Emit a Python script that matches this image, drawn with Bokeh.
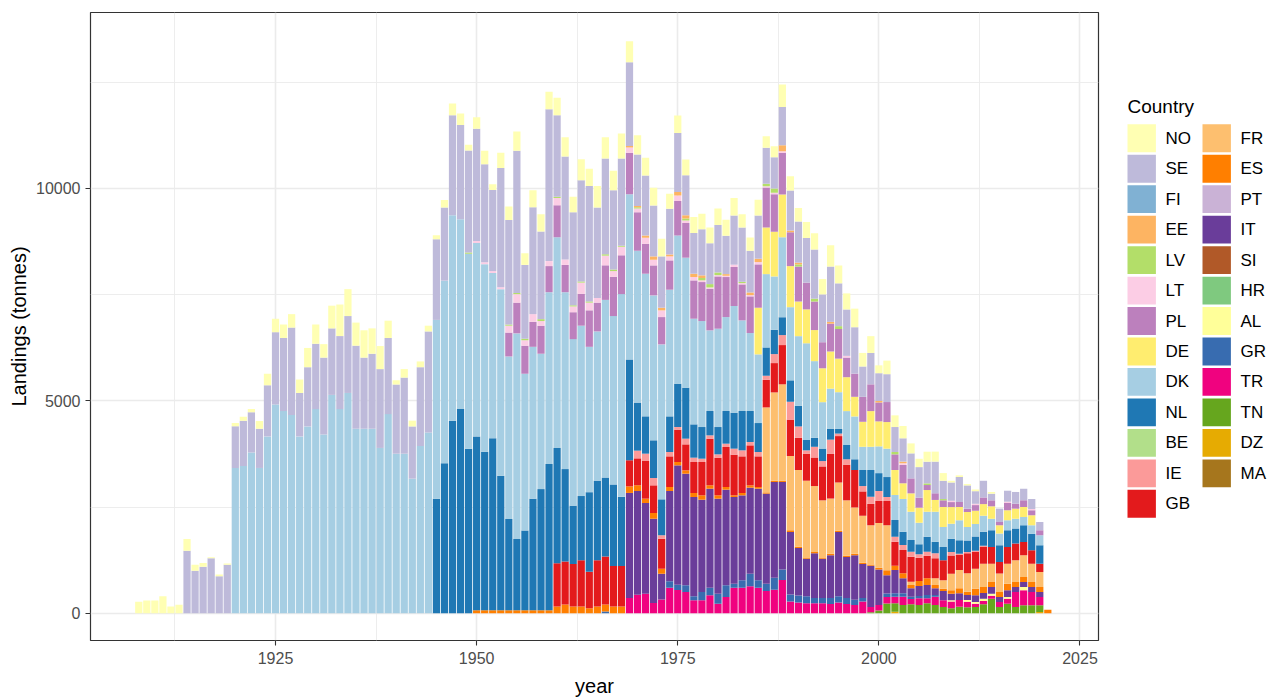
from bokeh.plotting import figure
from bokeh.layouts import row
from bokeh.models import ColumnDataSource, FixedTicker, Range1d
from bokeh.core.properties import value
from bokeh.embed import file_html
from bokeh.resources import INLINE

# ---------------- data ----------------
YEARS = list(range(1908, 2022))
COUNTRIES = ["NO", "SE", "FI", "EE", "LV", "LT", "PL", "DE", "DK", "NL", "BE", "IE", "GB",
             "FR", "ES", "PT", "IT", "SI", "HR", "AL", "GR", "TR", "TN", "DZ", "MA"]
COLORS = ["#FFFFB3", "#BEBADA", "#80B1D3", "#FDB462", "#B3DE69", "#FCCDE5", "#BC80BD",
          "#FFED6F", "#A6CEE3", "#1F78B4", "#B2DF8A", "#FB9A99", "#E31A1C",
          "#FDBF6F", "#FF7F00", "#CAB2D6", "#6A3D9A", "#B15928", "#7FC97F", "#FFFF99",
          "#386CB0", "#F0027F", "#66A61E", "#E6AB02", "#A6761D"]
X_TICKS = [1925, 1950, 1975, 2000, 2025]
X_MINOR = [1912.5, 1937.5, 1962.5, 1987.5, 2012.5]
Y_TICKS = [0, 5000, 10000]
Y_MINOR = [2500, 7500, 12500]

NO = {1908: 270, 1909: 300, 1910: 300, 1911: 400, 1912: 160, 1913: 200, 1914: 275, 1915: 140,
      1916: 90, 1917: 25, 1918: 45, 1919: 35, 1920: 80, 1921: 91, 1922: 73, 1923: 181, 1924: 271,
      1925: 316, 1926: 317, 1927: 317, 1928: 316, 1929: 453, 1930: 453, 1931: 317, 1932: 534,
      1933: 742, 1934: 633, 1935: 543, 1936: 643, 1937: 597, 1938: 543, 1939: 407, 1940: 100,
      1941: 200, 1942: 136, 1943: 136, 1944: 135, 1945: 90, 1946: 181, 1947: 280, 1948: 271,
      1949: 136, 1950: 272, 1951: 317, 1952: 136, 1953: 362, 1954: 317, 1955: 453, 1956: 271,
      1957: 398, 1958: 407, 1959: 407, 1960: 416, 1961: 453, 1962: 362, 1963: 498, 1964: 407,
      1965: 507, 1966: 498, 1967: 461, 1968: 588, 1969: 497, 1970: 452, 1971: 415, 1972: 415,
      1973: 415, 1974: 353, 1975: 415, 1976: 369, 1977: 376, 1978: 368, 1979: 369, 1980: 392,
      1981: 376, 1982: 408, 1983: 313, 1984: 313, 1985: 369, 1986: 274, 1987: 259, 1988: 529,
      1989: 336, 1990: 319, 1991: 378, 1992: 378, 1993: 361, 1994: 504, 1995: 420, 1996: 378,
      1997: 437, 1998: 319, 1999: 395, 2000: 185, 2001: 319, 2002: 275, 2003: 290, 2004: 235,
      2005: 196, 2006: 235, 2007: 235, 2008: 180, 2009: 40, 2010: 39, 2011: 32, 2012: 40,
      2014: 40}
SE = {1914: 1475, 1915: 1000, 1916: 1095, 1917: 1295, 1918: 870, 1919: 1140, 1920: 980,
      1921: 1068, 1922: 950, 1923: 923, 1924: 1204, 1925: 1702, 1926: 1720, 1927: 2054,
      1928: 1023, 1929: 1394, 1930: 1538, 1931: 1810, 1932: 1566, 1933: 1719, 1934: 1810,
      1935: 1955, 1936: 1674, 1937: 1765, 1938: 1855, 1939: 1792, 1940: 1629, 1941: 1792,
      1942: 1230, 1943: 1855, 1944: 2380, 1945: 1901, 1946: 1720, 1947: 2353, 1948: 2218,
      1949: 2400, 1950: 2643, 1951: 2308, 1952: 1910, 1953: 2806, 1954: 2462, 1955: 3348,
      1956: 1738, 1957: 2516, 1958: 2064, 1959: 3575, 1960: 1919, 1961: 2425, 1962: 2190,
      1963: 2380, 1964: 2715, 1965: 2127, 1966: 2253, 1967: 1864, 1968: 2054, 1969: 1973,
      1970: 1213, 1971: 1412, 1972: 1200, 1973: 1208, 1974: 1074, 1975: 1388, 1976: 941,
      1977: 957, 1978: 1082, 1979: 964, 1980: 1114, 1981: 902, 1982: 1160, 1983: 1279,
      1984: 981, 1985: 1019, 1986: 847, 1987: 737, 1988: 899, 1989: 941, 1990: 966, 1991: 1050,
      1992: 1159, 1993: 1126, 1994: 1302, 1995: 1008, 1996: 1092, 1997: 1092, 1998: 714,
      1999: 739, 2000: 655, 2001: 656, 2002: 588, 2003: 549, 2004: 588, 2005: 720, 2006: 510,
      2007: 745, 2008: 431, 2009: 431, 2010: 588, 2011: 549, 2012: 297, 2013: 392, 2014: 156,
      2015: 314, 2016: 259, 2017: 275, 2018: 275, 2019: 235, 2020: 196}
FI = {}
EE = {1969: 36, 1970: 27, 1971: 55, 1972: 79, 1973: 63, 1974: 47, 1975: 79, 1976: 79, 1977: 78,
      1978: 63, 1981: 39, 1984: 62, 1985: 79, 1988: 143, 1989: 42, 1990: 42, 1994: 42, 2000: 34,
      2003: 39}
LV = {1949: 30, 1954: 27, 1955: 28, 1956: 36, 1958: 45, 1960: 27, 1962: 27, 1963: 27, 1964: 28,
      1966: 36, 1967: 37, 1968: 27, 1970: 27, 1976: 47, 1978: 55, 1979: 79, 1980: 63, 1983: 31,
      1986: 55, 1987: 102, 1990: 50, 1992: 67, 1995: 67, 2002: 55, 2006: 39, 2008: 30}
LT = {1950: 45, 1951: 45, 1952: 45, 1953: 45, 1954: 162, 1955: 199, 1956: 127, 1957: 181,
      1958: 109, 1959: 118, 1960: 172, 1961: 126, 1962: 136, 1963: 263, 1964: 181, 1965: 109,
      1966: 227, 1967: 135, 1968: 199, 1969: 118, 1970: 91, 1971: 141, 1972: 133, 1973: 157,
      1974: 94, 1975: 133, 1976: 60, 1977: 79, 1978: 40, 1979: 30, 1980: 30, 1981: 30, 1982: 55,
      1983: 30, 1984: 30, 1985: 54, 1986: 30, 1987: 30, 1988: 40, 1996: 40, 2003: 40, 2009: 30,
      2012: 30, 2016: 30, 2019: 30}
PL = {1954: 562, 1955: 724, 1956: 661, 1957: 588, 1958: 660, 1959: 615, 1960: 751, 1961: 643,
      1962: 633, 1963: 751, 1964: 859, 1965: 678, 1966: 814, 1967: 923, 1968: 914, 1969: 977,
      1970: 905, 1971: 706, 1972: 706, 1973: 643, 1974: 690, 1975: 808, 1976: 815, 1977: 902,
      1978: 918, 1979: 980, 1980: 1231, 1981: 942, 1982: 918, 1983: 847, 1984: 863, 1985: 1020,
      1986: 941, 1987: 886, 1988: 974, 1989: 798, 1990: 823, 1991: 630, 1992: 672, 1993: 613,
      1994: 655, 1995: 697, 1996: 462, 1997: 546, 1998: 588, 1999: 630, 2000: 445, 2001: 471,
      2002: 369, 2003: 431, 2004: 353, 2005: 235, 2006: 118, 2007: 157, 2008: 157, 2009: 118,
      2010: 118, 2011: 78, 2012: 133, 2013: 157, 2014: 141, 2015: 78, 2016: 173, 2017: 118,
      2018: 157, 2019: 118, 2020: 118}
DE = {1985: 1098, 1986: 1098, 1987: 1051, 1988: 1008, 1989: 966, 1990: 815, 1991: 798,
      1992: 731, 1993: 798, 1994: 874, 1995: 790, 1996: 798, 1997: 462, 1998: 588, 1999: 840,
      2000: 588, 2001: 626, 2002: 588, 2003: 369, 2004: 431, 2005: 353, 2006: 510, 2007: 275,
      2008: 471, 2009: 392, 2010: 314, 2011: 353, 2012: 314, 2013: 275, 2014: 290, 2015: 196,
      2016: 235, 2017: 235, 2018: 235, 2019: 235}
DK = {1920: 3420, 1921: 3466, 1922: 3783, 1923: 3421, 1924: 4163, 1925: 4914, 1926: 4760,
      1927: 4670, 1928: 4163, 1929: 4398, 1930: 4806, 1931: 4208, 1932: 5140, 1933: 4806,
      1934: 5186, 1935: 4344, 1936: 4344, 1937: 4344, 1938: 3892, 1939: 4688, 1940: 3756,
      1941: 3756, 1942: 3168, 1943: 3937, 1944: 4254, 1945: 4208, 1946: 4298, 1947: 4833,
      1948: 4470, 1949: 4589, 1950: 4552, 1951: 4417, 1952: 3891, 1953: 4389, 1954: 3828,
      1955: 4841, 1956: 3692, 1957: 3575, 1958: 3186, 1959: 4046, 1960: 4959, 1961: 4163,
      1962: 3919, 1963: 4009, 1964: 3421, 1965: 3512, 1966: 4181, 1967: 3964, 1968: 4770,
      1969: 3892, 1970: 3575, 1971: 3357, 1972: 3411, 1973: 3647, 1974: 2981, 1975: 3490,
      1976: 3059, 1977: 2486, 1978: 2494, 1979: 1898, 1980: 2314, 1981: 2211, 1982: 2510,
      1983: 2133, 1984: 1835, 1985: 1616, 1986: 1726, 1987: 1255, 1988: 1882, 1989: 1722,
      1990: 1638, 1991: 2268, 1992: 1806, 1993: 1092, 1994: 949, 1995: 865, 1996: 798,
      1997: 1008, 1998: 546, 1999: 546, 2000: 630, 2001: 668, 2002: 588, 2003: 769, 2004: 667,
      2005: 510, 2006: 588, 2007: 706, 2008: 470, 2009: 353, 2010: 471, 2011: 314, 2012: 290,
      2013: 376, 2014: 275, 2015: 275, 2016: 235, 2017: 235, 2018: 196, 2019: 196, 2020: 235}
NL = {1945: 2697, 1946: 3530, 1947: 4534, 1948: 4806, 1949: 3873, 1950: 4093, 1951: 3730,
      1952: 4048, 1953: 3170, 1954: 2145, 1955: 1675, 1956: 1874, 1957: 2625, 1958: 2851,
      1959: 3439, 1960: 2715, 1961: 2172, 1962: 1376, 1963: 1511, 1964: 1874, 1965: 1873,
      1966: 1856, 1967: 1919, 1968: 1629, 1969: 2371, 1970: 1131, 1971: 878, 1972: 887,
      1973: 847, 1974: 839, 1975: 1020, 1976: 1200, 1977: 784, 1978: 745, 1979: 573, 1980: 643,
      1981: 769, 1982: 847, 1983: 926, 1984: 730, 1985: 682, 1986: 666, 1987: 572, 1988: 420,
      1989: 504, 1990: 487, 1991: 252, 1992: 210, 1993: 294, 1994: 252, 1995: 109, 1996: 336,
      1997: 252, 1998: 378, 1999: 630, 2000: 420, 2001: 470, 2002: 392, 2003: 314, 2004: 275,
      2005: 235, 2006: 353, 2007: 275, 2008: 314, 2009: 314, 2010: 314, 2011: 275, 2012: 337,
      2013: 329, 2014: 392, 2015: 392, 2016: 392, 2017: 353, 2018: 392, 2019: 392, 2020: 431}
BE = {}
IE = {1970: 181, 1971: 173, 1972: 172, 1973: 78, 1974: 102, 1975: 62, 1976: 134, 1977: 102,
      1978: 78, 1979: 78, 1980: 78, 1981: 78, 1982: 141, 1983: 141, 1984: 78, 1985: 102,
      1986: 94, 1987: 212, 1988: 235, 1989: 420, 1990: 269, 1991: 84, 1992: 252, 1993: 126,
      1994: 336, 1995: 59, 1996: 126, 1998: 126, 1999: 168, 2000: 235, 2001: 94, 2002: 118,
      2003: 118, 2004: 118, 2005: 78, 2006: 94, 2007: 118, 2009: 78, 2010: 30, 2011: 30,
      2012: 30, 2013: 30}
GB = {1960: 1014, 1961: 1014, 1962: 995, 1963: 1086, 1964: 859, 1965: 1086, 1966: 1131,
      1967: 950, 1968: 950, 1969: 615, 1970: 633, 1971: 886, 1972: 651, 1973: 706, 1974: 721,
      1975: 761, 1976: 611, 1977: 730, 1978: 785, 1979: 1098, 1980: 887, 1981: 941, 1982: 957,
      1983: 863, 1984: 941, 1985: 721, 1986: 651, 1987: 690, 1988: 924, 1989: 857, 1990: 756,
      1991: 630, 1992: 672, 1993: 798, 1994: 1050, 1995: 1092, 1996: 840, 1997: 882, 1998: 571,
      1999: 504, 2000: 521, 2001: 572, 2002: 565, 2003: 549, 2004: 588, 2005: 549, 2006: 533,
      2007: 471, 2008: 471, 2009: 431, 2010: 353, 2011: 471, 2012: 392, 2013: 392, 2014: 392,
      2015: 275, 2016: 392, 2017: 392, 2018: 314, 2019: 314, 2020: 196}
FR = {1986: 2000, 1987: 2079, 1988: 2268, 1989: 1747, 1990: 1806, 1991: 1806, 1992: 1554,
      1993: 1344, 1994: 1302, 1995: 1134, 1996: 1302, 1997: 1092, 1998: 1109, 1999: 924,
      2000: 1050, 2001: 1059, 2004: 78, 2007: 157, 2008: 196, 2009: 392, 2010: 431, 2011: 431,
      2012: 471, 2013: 549, 2014: 431, 2015: 431, 2016: 471, 2017: 510, 2018: 510, 2019: 431,
      2020: 353}
ES = {1950: 70, 1951: 70, 1952: 70, 1953: 70, 1954: 72, 1955: 72, 1956: 72, 1957: 72, 1958: 72,
      1959: 72, 1960: 163, 1961: 208, 1962: 163, 1963: 163, 1964: 118, 1965: 163, 1966: 163,
      1967: 163, 1968: 163, 1969: 154, 1970: 136, 1971: 102, 1972: 134, 1973: 118, 1974: 95,
      1975: 79, 1976: 79, 1977: 94, 1978: 102, 1979: 79, 1980: 78, 1981: 63, 1982: 40, 1983: 55,
      1984: 55, 1985: 40, 1986: 30, 1987: 30, 1988: 30, 1989: 40, 1990: 30, 1991: 30, 1992: 30,
      1993: 30, 1994: 30, 1995: 30, 1996: 30, 1997: 30, 1998: 30, 1999: 30, 2000: 40, 2001: 118,
      2002: 102, 2003: 118, 2004: 78, 2005: 118, 2006: 157, 2007: 78, 2008: 55, 2009: 78,
      2010: 118, 2011: 78, 2012: 157, 2013: 141, 2014: 118, 2015: 118, 2016: 157, 2017: 118,
      2018: 118, 2019: 118, 2020: 118, 2021: 86}
PT = {}
IT = {1969: 2471, 1970: 2444, 1971: 2133, 1972: 1984, 1973: 611, 1974: 2125, 1975: 2812,
      1976: 2627, 1977: 2337, 1978: 2172, 1979: 2329, 1980: 2235, 1981: 2251, 1982: 2039,
      1983: 2000, 1984: 2024, 1985: 2157, 1986: 2118, 1987: 2251, 1988: 2058, 1989: 1470,
      1990: 1117, 1991: 882, 1992: 1050, 1993: 924, 1994: 1008, 1995: 1512, 1996: 966,
      1997: 1050, 1998: 798, 1999: 966, 2000: 840, 2001: 430, 2002: 549, 2003: 353, 2004: 196,
      2005: 235, 2006: 235, 2007: 157, 2008: 219, 2009: 157, 2010: 157, 2011: 118, 2012: 157,
      2013: 133, 2014: 157, 2015: 118, 2016: 157, 2017: 118, 2018: 118, 2019: 118, 2020: 118}
SI = {}
HR = {}
AL = {2009: 30, 2011: 39, 2012: 39, 2013: 55, 2014: 47, 2016: 39, 2018: 78}
GR = {1966: 45, 1974: 149, 1975: 120, 1976: 157, 1977: 94, 1978: 196, 1979: 180, 1980: 236,
      1981: 275, 1982: 94, 1983: 172, 1984: 298, 1985: 172, 1986: 173, 1987: 282, 1988: 252,
      1989: 168, 1990: 168, 1991: 168, 1992: 126, 1993: 126, 1994: 143, 1995: 151, 1996: 143,
      1997: 126, 1998: 84, 2001: 80, 2002: 78, 2003: 78, 2004: 55, 2005: 55, 2006: 78, 2007: 39}
TR = {1969: 362, 1970: 434, 1971: 463, 1972: 243, 1973: 322, 1974: 604, 1975: 550, 1976: 502,
      1977: 306, 1978: 306, 1979: 424, 1980: 227, 1981: 384, 1982: 604, 1983: 604, 1984: 635,
      1985: 604, 1986: 525, 1987: 557, 1988: 781, 1989: 277, 1990: 252, 1991: 235, 1992: 235,
      1993: 235, 1994: 218, 1995: 252, 1996: 218, 1997: 193, 1998: 277, 1999: 126, 2000: 126,
      2001: 156, 2002: 157, 2003: 196, 2004: 125, 2005: 157, 2006: 118, 2007: 196, 2008: 157,
      2009: 157, 2010: 157, 2011: 133, 2012: 78, 2013: 78, 2014: 71, 2015: 118, 2016: 118,
      2017: 353, 2018: 353, 2019: 314, 2020: 196}
TN = {1999: 25, 2000: 67, 2001: 228, 2002: 196, 2003: 196, 2004: 212, 2005: 196, 2006: 235,
      2007: 196, 2008: 149, 2009: 118, 2010: 157, 2011: 141, 2012: 149, 2013: 212, 2014: 345,
      2015: 149, 2016: 227, 2017: 149, 2018: 188, 2019: 188, 2020: 157}
DZ = {2002: 39, 2020: 31}
MA = {}

SERIES = {"NO": NO, "SE": SE, "FI": FI, "EE": EE, "LV": LV, "LT": LT, "PL": PL, "DE": DE,
          "DK": DK, "NL": NL, "BE": BE, "IE": IE, "GB": GB, "FR": FR, "ES": ES, "PT": PT,
          "IT": IT, "SI": SI, "HR": HR, "AL": AL, "GR": GR, "TR": TR, "TN": TN, "DZ": DZ,
          "MA": MA}

data = {"year": YEARS}
for c in COUNTRIES:
    data[c] = [float(SERIES[c].get(y, 0)) for y in YEARS]
source = ColumnDataSource(data)

FONT = "Liberation Sans"

# ---------------- main plot ----------------
p = figure(width=1100, height=699,
           x_range=Range1d(1902.0, 2027.3), y_range=Range1d(-640, 14140),
           output_backend="svg", toolbar_location=None,
           min_border_left=90, min_border_right=2, min_border_top=12, min_border_bottom=59)

stack_order = COUNTRIES[::-1]
stack_colors = COLORS[::-1]
p.vbar_stack(stack_order, x="year", width=0.9, source=source,
             fill_color=stack_colors, line_color=None)

xt = FixedTicker(ticks=X_TICKS, minor_ticks=X_MINOR)
yt = FixedTicker(ticks=Y_TICKS, minor_ticks=Y_MINOR)
p.xaxis.ticker = xt
p.yaxis.ticker = yt
p.xgrid.ticker = xt
p.ygrid.ticker = yt

for g in (p.xgrid[0], p.ygrid[0]):
    g.grid_line_color = "#EBEBEB"
    g.grid_line_width = 1.6
    g.minor_grid_line_color = "#EBEBEB"
    g.minor_grid_line_width = 0.9

p.xaxis.axis_label = "year"
p.yaxis.axis_label = "Landings (tonnes)"
for ax in (p.xaxis[0], p.yaxis[0]):
    ax.axis_line_color = None
    ax.major_tick_line_color = "#333333"
    ax.major_tick_line_width = 1.1
    ax.major_tick_out = 5
    ax.major_tick_in = 0
    ax.minor_tick_line_color = None
    ax.major_label_text_font = FONT
    ax.major_label_text_font_size = "16px"
    ax.major_label_text_color = "#4D4D4D"
    ax.axis_label_text_font = FONT
    ax.axis_label_text_font_size = "20px"
    ax.axis_label_text_font_style = "normal"
    ax.axis_label_text_color = "black"
p.xaxis.major_label_standoff = 6
p.xaxis.axis_label_standoff = 8
p.yaxis.major_label_standoff = 5
p.yaxis.axis_label_standoff = 3

p.outline_line_color = "#333333"
p.outline_line_width = 1.2
p.background_fill_color = "white"
p.border_fill_color = "white"

# ---------------- legend panel ----------------
LEG_COL_X = [1127, 1202]
LEG_ROW0 = 140
LEG_DY = 33.9
KEY_W = 28.4
KEY_H = 31
LABEL_GAP = 38
ROWS = 13

lg = figure(width=184, height=699, x_range=Range1d(1100, 1284), y_range=Range1d(699, 0),
            output_backend="svg", toolbar_location=None,
            x_axis_location=None, y_axis_location=None,
            min_border_left=0, min_border_right=0, min_border_top=0, min_border_bottom=0)
lg.xgrid.visible = False
lg.ygrid.visible = False
lg.outline_line_color = None
lg.background_fill_color = "white"
lg.border_fill_color = "white"

kx, ky, kc, tx, tl = [], [], [], [], []
for i, (c, col) in enumerate(zip(COUNTRIES, COLORS)):
    ci, ri = divmod(i, ROWS)
    x0 = LEG_COL_X[ci]
    kx.append(x0 + KEY_W / 2)
    ky.append(LEG_ROW0 + ri * LEG_DY)
    kc.append(col)
    tx.append(x0 + LABEL_GAP)
    tl.append(c)

lg.rect(x=kx, y=ky, width=KEY_W, height=KEY_H, fill_color=kc, line_color=None)
lg.text(x=tx, y=ky, text=tl, text_font=value(FONT), text_font_size="17px",
        text_baseline="middle", text_align="left", text_color="black")
lg.text(x=[LEG_COL_X[0]], y=[105], text=["Country"], text_font=value(FONT),
        text_font_size="19px", text_baseline="middle", text_align="left", text_color="black")

layout = row(p, lg)
open("out.html", "w").write(file_html(layout, INLINE, title="Landings by country"))
